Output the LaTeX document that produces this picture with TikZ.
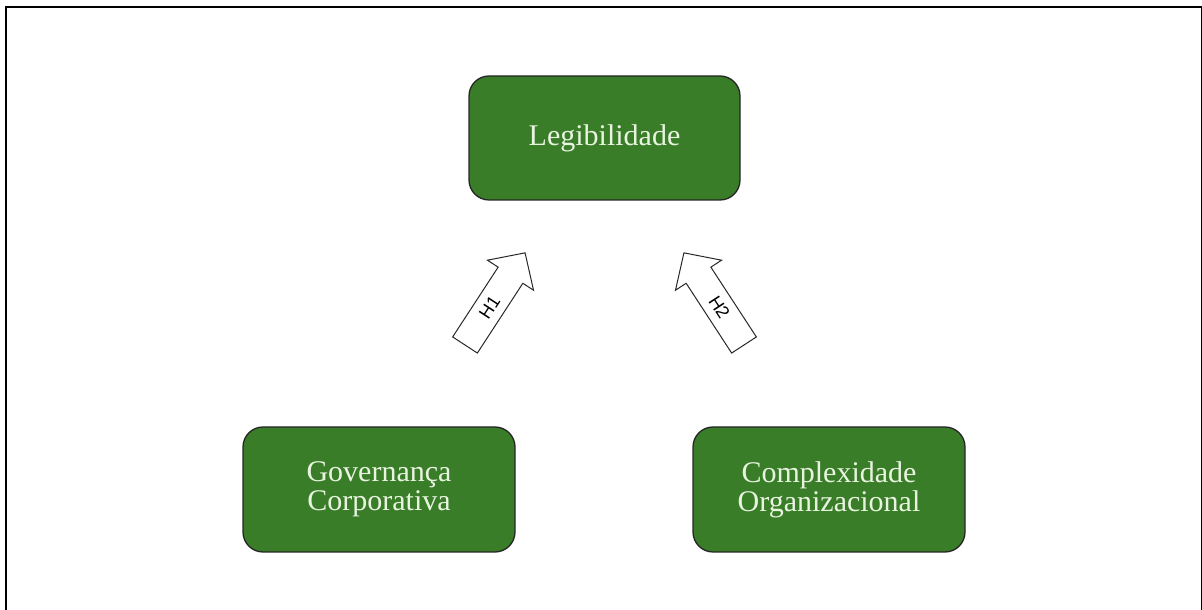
\documentclass[tikz,border=0pt]{standalone}
\usepackage{fontspec}
\setmainfont{Liberation Serif}
\newfontfamily\hfont{Liberation Sans}
\definecolor{boxgreen}{RGB}{58,125,40}
\definecolor{boxtext}{RGB}{232,244,224}
\definecolor{arrowline}{RGB}{40,40,40}
\begin{document}
\begin{tikzpicture}[x=1pt,y=1pt,
  varbox/.style={draw=black!85, line width=1.3pt, fill=boxgreen, rounded corners=20pt,
    text=boxtext, font=\fontsize{30}{29}\selectfont, align=center, inner sep=0pt},
  hyparrow/.style={draw=arrowline, line width=1pt, fill=white, line join=miter},
  hyplabel/.style={font=\hfont\fontsize{18}{18}\selectfont, inner sep=0pt}]
\useasboundingbox (0,0) rectangle (1202,610);
% outer frame
\draw[line width=2pt, black] (6,-10) -- (6,603) -- (1201.5,603) -- (1201.5,-10);
% boxes
\node[varbox, minimum width=271pt, minimum height=124pt] (leg) at (604.5,472) {Legibilidade};
\node[varbox, minimum width=272pt, minimum height=125pt] (gov) at (379,120.5) {Governança\\Corporativa};
\node[varbox, minimum width=272pt, minimum height=125pt] (comp) at (829,120.5) {Complexidade\\Organizacional};
% H1 arrow
\begin{scope}[shift={(465,265)}, rotate=56.9]
  \draw[hyparrow] (0,-14.75) -- (83.3,-14.75) -- (83.3,-27.5) -- (110,0) -- (83.3,27.5) -- (83.3,14.75) -- (0,14.75) -- cycle;
  \node[hyplabel, rotate=56.9] (h1) at (45,0) {H1};
\end{scope}
% H2 arrow
\begin{scope}[shift={(744,265)}, rotate=123.1]
  \draw[hyparrow] (0,-14.75) -- (83.3,-14.75) -- (83.3,-27.5) -- (110,0) -- (83.3,27.5) -- (83.3,14.75) -- (0,14.75) -- cycle;
  \node[hyplabel, rotate=-56.9] (h2) at (45,0) {H2};
\end{scope}
\end{tikzpicture}
\end{document}
